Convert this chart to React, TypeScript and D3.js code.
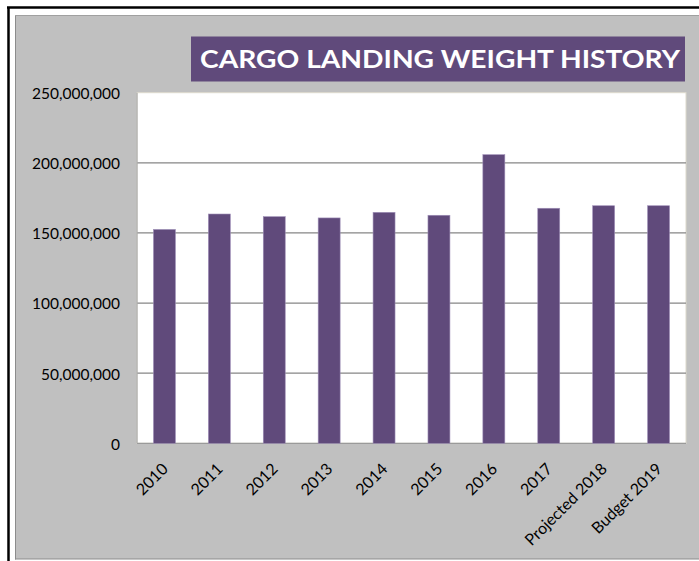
import React from "react";
import * as d3 from "d3";

const categories: string[] = ["2010", "2011", "2012", "2013", "2014", "2015", "2016", "2017", "Projected 2018", "Budget 2019"];
const weights: number[] = [152500000, 163500000, 161600000, 160700000, 164700000, 162600000, 205800000, 167600000, 169400000, 169400000];
const yTicks: number[] = [0, 50000000, 100000000, 150000000, 200000000, 250000000];
const title = "CARGO LANDING WEIGHT HISTORY";

const W = 699;
const H = 561;
const plot = { left: 137, right: 686, top: 92.7, bottom: 443.3 };
const purple = "#604A7B";
const font = "Lato, 'Open Sans', sans-serif";

export default function App() {
  const x = d3.scaleBand<string>().domain(categories).range([plot.left, plot.right]).paddingInner(0.6).paddingOuter(0.3);
  const y = d3.scaleLinear().domain([0, 250000000]).range([plot.bottom, plot.top]);
  const fmt = d3.format(",");

  return (
    <svg width={W} height={H} style={{ position: "absolute", left: 0, top: 0 }}>
      <rect x={0} y={0} width={W} height={H} fill="#ffffff" />
      {/* black frame */}
      <line x1={7} y1={7.5} x2={W} y2={7.5} stroke="#000" strokeWidth={2.5} />
      <line x1={8.5} y1={7} x2={8.5} y2={H} stroke="#000" strokeWidth={2.5} />
      {/* gray chart area */}
      <rect x={15} y={15} width={W - 15} height={544} fill="#C0C0C0" />
      <line x1={15.5} y1={15} x2={15.5} y2={559.5} stroke="#8c8c8c" strokeWidth={1} />
      <line x1={15} y1={15.5} x2={W} y2={15.5} stroke="#a0a0a0" strokeWidth={1} />
      <line x1={15} y1={559} x2={W} y2={559} stroke="#8c8c8c" strokeWidth={1.2} />
      {/* title */}
      <rect x={191} y={36.5} width={494} height={45} fill={purple} />
      <text x={200} y={67.5} fill="#fff" fontFamily={font} fontWeight={700} fontSize={24.5} textLength={480} lengthAdjust="spacingAndGlyphs">
        {title}
      </text>
      {/* plot area */}
      <rect x={plot.left} y={plot.top} width={plot.right - plot.left} height={plot.bottom - plot.top} fill="#fff" stroke="#dcd9cc" strokeWidth={1} />
      {yTicks.filter((t) => t > 0 && t < 250000000).map((t) => (
        <line key={t} x1={plot.left} x2={plot.right} y1={y(t)} y2={y(t)} stroke="#868686" strokeWidth={1.3} />
      ))}
      <line x1={plot.left} x2={plot.right} y1={plot.bottom} y2={plot.bottom} stroke="#9a9a9a" strokeWidth={1.3} />
      <line x1={plot.left} x2={plot.left} y1={plot.top} y2={plot.bottom} stroke="#b0b0b0" strokeWidth={1.3} />
      {/* bars */}
      {categories.map((c, i) => (
        <rect key={c} x={x(c)} y={y(weights[i])} width={x.bandwidth()} height={plot.bottom - y(weights[i])} fill={purple} stroke="#9f8fb8" strokeWidth={0.6} />
      ))}
      {/* y labels */}
      {yTicks.map((t) => (
        <text key={t} x={120} y={y(t) + 2.5} textAnchor="end" dominantBaseline="middle" fontFamily={font} fontSize={15.5} fill="#000">
          {fmt(t)}
        </text>
      ))}
      {/* x labels */}
      {categories.map((c) => {
        const cx = (x(c) as number) + x.bandwidth() / 2 + 4.5;
        return (
          <text key={c} transform={`translate(${cx},${470}) rotate(-45)`} textAnchor="end" fontFamily={font} fontSize={16} fill="#000">
            {c}
          </text>
        );
      })}
    </svg>
  );
}
